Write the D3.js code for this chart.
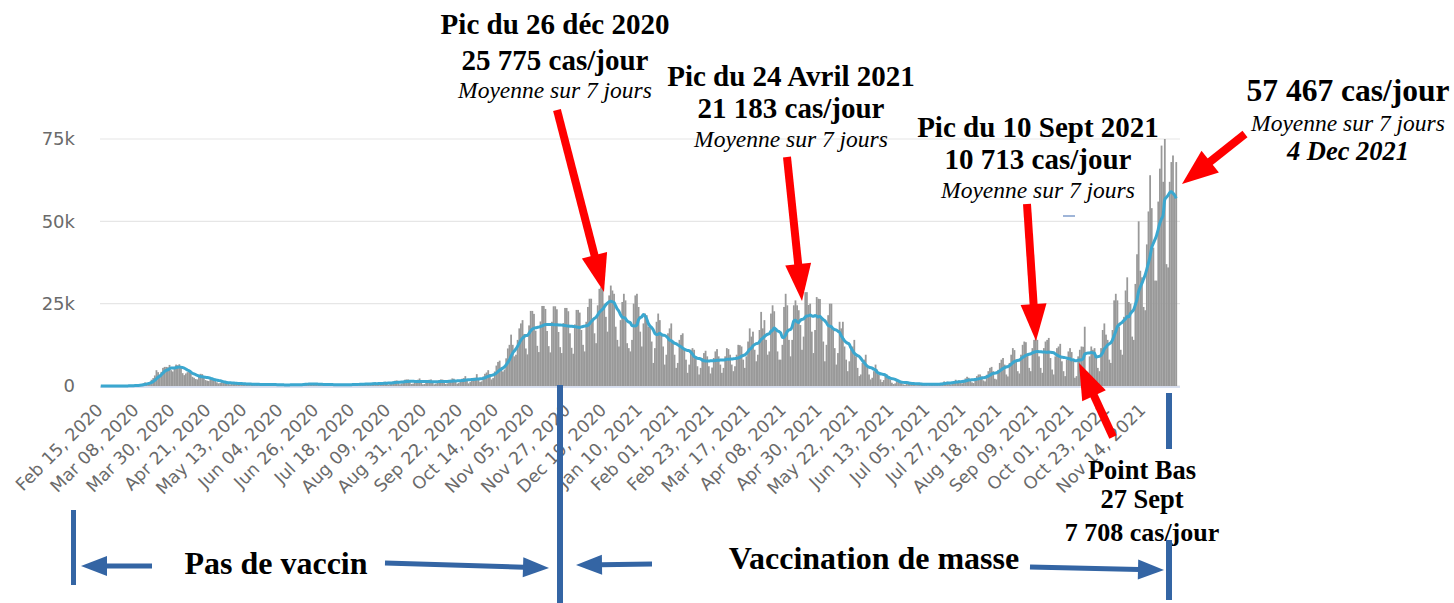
<!DOCTYPE html>
<html>
<head>
<meta charset="utf-8">
<script src="https://cdn.jsdelivr.net/npm/d3@7"></script>
<style>
  body { margin: 0; background: #fff; }
  svg { display: block; }
</style>
</head>
<body>
<svg id="chart" width="1454" height="603"></svg>
<script>
// Daily new cases, in thousands, one row per week (Saturday to Friday), from Feb 15, 2020
const startDate = "2020-02-15";
const dailyCasesK = [
  0,0,0,0,0,0,0,
  0,0,0,0.01,0.02,0.02,0.02,
  0.04,0.03,0.05,0.09,0.12,0.17,0.2,
  0.2,0.15,0.25,0.4,0.6,0.8,1.1,
  0.9,1.0,1.2,1.9,2.4,3.2,4.8,
  4.2,3.0,4.3,5.5,5.8,5.8,5.7,
  6.4,4.8,4.4,5.6,6.5,6.3,6.6,
  5.9,3.9,3.3,3.8,4.2,4.7,4.3,
  2.8,2.5,2.1,2.0,2.9,3.7,3.6,
  2.5,1.8,1.6,1.5,2.1,2.3,2.2,
  1.7,1.1,0.8,0.9,1.2,1.5,1.2,
  0.9,0.6,0.5,0.7,1.0,1.1,0.8,
  0.7,0.5,0.35,0.55,0.7,0.75,0.65,
  0.6,0.4,0.3,0.45,0.6,0.65,0.5,
  0.45,0.35,0.25,0.4,0.55,0.6,0.55,
  0.4,0.3,0.2,0.3,0.4,0.45,0.4,
  0.35,0.25,0.2,0.3,0.45,0.45,0.45,
  0.4,0.3,0.25,0.4,0.55,0.7,0.9,
  0.7,0.5,0.4,0.55,0.65,0.65,0.75,
  0.45,0.3,0.25,0.4,0.55,0.6,0.6,
  0.35,0.25,0.2,0.3,0.4,0.5,0.45,
  0.35,0.25,0.2,0.4,0.5,0.55,0.55,
  0.5,0.3,0.3,0.55,0.7,0.8,0.7,
  0.6,0.35,0.4,0.65,0.95,0.9,1.05,
  0.75,0.3,0.5,0.85,1.05,1.2,1.3,
  0.9,0.4,0.6,1.1,1.4,1.6,1.7,
  1.2,0.5,0.8,1.4,1.9,2.0,2.0,
  1.4,0.6,0.7,1.2,1.7,1.9,2.3,
  1.3,0.5,0.6,1.2,1.6,1.9,2.0,
  1.2,0.5,0.7,1.3,1.8,2.0,1.95,
  1.3,0.6,0.8,1.4,1.9,2.3,2.2,
  1.6,0.7,0.9,1.8,2.2,2.4,3.0,
  2.0,0.8,1.2,2.1,2.5,2.5,3.6,
  2.2,1.2,1.4,2.9,3.7,4.1,4.8,
  3.6,2.0,2.4,4.4,6.2,7.3,7.7,
  5.7,4.4,5.0,8.4,11.4,12.5,15.6,
  12.5,9.0,9.5,14.0,17.5,19.0,20.0,
  15.8,11.4,9.6,18.4,22.8,22.8,21.9,
  16.8,12.2,10.3,19.6,24.3,24.3,23.4,
  16.7,12.1,10.2,19.5,24.2,24.2,23.3,
  16.4,11.8,10.0,19.1,23.7,23.7,22.7,
  16.0,11.6,9.8,18.7,23.1,23.1,22.3,
  17.0,12.5,10.5,19.5,24.0,26.5,26.5,
  20.5,16.0,13.0,24.5,29.5,30.0,29.5,
  25.0,21.0,16.5,27.5,30.5,29.0,28.0,
  18.0,14.0,12.0,20.0,25.5,28.0,26.0,
  13.0,11.5,10.5,14.0,25.0,27.5,28.0,
  24.0,16.5,12.0,19.0,22.0,21.5,18.0,
  18.5,13.5,7.0,11.5,19.5,22.0,20.0,
  16.0,12.0,6.5,9.5,16.0,17.5,19.0,
  13.0,9.5,5.5,7.0,14.0,15.5,16.0,
  11.0,8.0,4.0,6.5,11.0,11.5,11.0,
  9.0,6.0,3.5,5.5,8.5,10.0,10.7,
  9.0,6.0,3.8,5.6,8.5,10.5,11.2,
  9.0,6.5,4.0,5.5,9.0,11.5,11.2,
  9.5,6.5,4.5,6.0,9.5,12.5,12.4,
  12.0,8.0,5.5,9.0,13.5,17.5,15.0,
  16.5,11.0,7.5,9.5,17.0,22.5,17.5,
  20.0,14.0,9.5,10.5,22.0,24.5,22.7,
  17.5,10.5,8.0,8.0,12.5,24.0,28.0,
  24.5,14.0,9.0,14.0,24.5,26.0,24.5,
  23.0,18.5,11.0,15.0,28.5,28.5,24.6,
  25.0,16.5,10.0,17.0,27.0,26.5,26.4,
  21.0,13.5,7.5,12.5,21.5,25.0,25.0,
  17.0,11.5,6.5,10.0,19.5,17.5,19.5,
  12.0,8.0,4.5,7.5,12.0,12.0,14.0,
  9.0,5.5,3.0,3.5,7.0,8.0,9.5,
  5.5,3.5,2.0,2.5,4.5,6.5,5.0,
  3.5,2.0,1.2,1.8,3.2,3.5,3.0,
  2.0,1.0,0.6,0.8,1.5,1.8,1.4,
  1.1,0.5,0.35,0.6,1.0,1.1,0.95,
  0.7,0.35,0.25,0.45,0.75,0.75,0.6,
  0.6,0.3,0.2,0.4,0.65,0.75,0.6,
  0.75,0.4,0.3,0.65,1.0,1.4,1.1,
  1.3,0.6,0.5,1.1,1.5,1.9,1.5,
  1.7,0.9,0.8,1.6,2.3,2.8,2.5,
  2.0,1.1,0.9,2.1,3.0,3.5,3.5,
  2.9,1.7,1.4,3.4,4.5,5.5,5.8,
  4.5,2.2,2.0,4.9,7.0,8.0,8.5,
  6.5,3.5,2.9,7.0,9.5,11.5,10.9,
  8.0,4.5,3.8,9.5,12.5,13.5,13.3,
  9.5,5.5,4.5,11.5,14.0,14.5,14.0,
  9.0,5.5,4.0,11.5,13.5,14.0,14.6,
  8.5,5.0,3.5,9.0,11.5,12.0,12.8,
  7.5,4.5,3.0,8.0,10.5,11.5,10.3,
  8.0,2.5,3.0,9.0,11.0,12.0,11.9,
  18.0,4.5,4.0,9.0,12.0,11.0,11.5,
  9.5,5.5,4.5,11.5,17.0,19.0,15.6,
  14.0,8.0,7.0,17.0,26.0,28.0,26.0,
  18.0,11.0,9.5,21.0,29.0,33.0,25.5,
  25.0,15.0,14.0,31.0,40.0,50.0,35.0,
  33.0,24.0,23.0,43.0,53.0,64.0,54.0,
  42.0,32.0,32.0,56.0,66.0,73.0,62.0,
  75.0,37.0,36.0,62.0,68.0,70.0,58.0,
  68.0
];

const yTicks = [0, 25, 50, 75];
const tickStep = 22;
const tickLabels = [
  "Feb 15, 2020", "Mar 08, 2020", "Mar 30, 2020", "Apr 21, 2020", "May 13, 2020",
  "Jun 04, 2020", "Jun 26, 2020", "Jul 18, 2020", "Aug 09, 2020", "Aug 31, 2020",
  "Sep 22, 2020", "Oct 14, 2020", "Nov 05, 2020", "Nov 27, 2020", "Dec 19, 2020",
  "Jan 10, 2021", "Feb 01, 2021", "Feb 23, 2021", "Mar 17, 2021", "Apr 08, 2021",
  "Apr 30, 2021", "May 22, 2021", "Jun 13, 2021", "Jul 05, 2021", "Jul 27, 2021",
  "Aug 18, 2021", "Sep 09, 2021", "Oct 01, 2021", "Oct 23, 2021", "Nov 14, 2021"
];

const peakNotes = [
  ["Pic du 26 déc 2020", "25 775 cas/jour", "Moyenne sur 7 jours"],
  ["Pic du 24 Avril 2021", "21 183 cas/jour", "Moyenne sur 7 jours"],
  ["Pic du 10 Sept 2021", "10 713 cas/jour", "Moyenne sur 7 jours"]
];
const lastNote = ["57 467 cas/jour", "Moyenne sur 7 jours", "4 Dec 2021"];
const lowNote = ["Point Bas", "27 Sept", "7 708 cas/jour"];
const periodLabels = ["Pas de vaccin", "Vaccination de masse"];

const svg = d3.select("#chart");
const n = dailyCasesK.length;

// 7-day trailing average of the daily values
const avgK = dailyCasesK.map((v, i) => d3.mean(dailyCasesK.slice(Math.max(0, i - 6), i + 1)));

const x = d3.scaleBand()
  .domain(d3.range(n))
  .range([100, 1177])
  .padding(0);

const y = d3.scaleLinear()
  .domain([0, 75])
  .range([386, 139]);

const axisFont = "'DejaVu Sans', Verdana, sans-serif";
const serif = "'Liberation Serif', 'Times New Roman', serif";

// grid lines + y labels
svg.append("g")
  .selectAll("line")
  .data(yTicks)
  .join("line")
  .attr("x1", 100)
  .attr("x2", 1180)
  .attr("y1", d => y(d))
  .attr("y2", d => y(d))
  .attr("stroke", "#e6e6e6")
  .attr("stroke-width", 1.2);

svg.append("g")
  .selectAll("text")
  .data(yTicks)
  .join("text")
  .attr("x", 75)
  .attr("y", d => y(d))
  .attr("dy", "0.36em")
  .attr("text-anchor", "end")
  .attr("font-family", axisFont)
  .attr("font-size", 18)
  .attr("fill", "#6a6a6a")
  .text(d => d === 0 ? "0" : d + "k");

// bars
svg.append("g")
  .selectAll("rect")
  .data(dailyCasesK)
  .join("rect")
  .attr("x", (d, i) => x(i))
  .attr("width", x.bandwidth() + 0.15)
  .attr("y", d => y(d))
  .attr("height", d => y(0) - y(d))
  .attr("fill", "#999999");

// x axis line
svg.append("line")
  .attr("x1", 100).attr("x2", 1180)
  .attr("y1", 387).attr("y2", 387)
  .attr("stroke", "#ccd6eb")
  .attr("stroke-width", 1.5);

// 7-day average
svg.append("path")
  .datum(avgK)
  .attr("fill", "none")
  .attr("stroke", "#3ba7cf")
  .attr("stroke-width", 3)
  .attr("stroke-linejoin", "round")
  .attr("d", d3.line()
    .x((d, i) => x(i) + x.bandwidth() / 2)
    .y(d => y(d))
    .curve(d3.curveMonotoneX));

// rotated date labels
svg.append("g")
  .selectAll("text")
  .data(tickLabels)
  .join("text")
  .attr("transform", (d, i) => `translate(${x(i * tickStep) + 4},${411}) rotate(-45)`)
  .attr("text-anchor", "end")
  .attr("font-family", axisFont)
  .attr("font-size", 17.5)
  .attr("fill", "#6a6a6a")
  .text(d => d);

// arrows
function arrow(x1, y1, x2, y2, color, w, headLen, headW) {
  const a = Math.atan2(y2 - y1, x2 - x1);
  const bx = x2 - headLen * Math.cos(a), by = y2 - headLen * Math.sin(a);
  const px = -Math.sin(a) * headW / 2, py = Math.cos(a) * headW / 2;
  svg.append("line")
    .attr("x1", x1).attr("y1", y1)
    .attr("x2", bx + Math.cos(a)).attr("y2", by + Math.sin(a))
    .attr("stroke", color)
    .attr("stroke-width", w);
  svg.append("path")
    .attr("d", `M${x2},${y2}L${bx + px},${by + py}L${bx - px},${by - py}Z`)
    .attr("fill", color);
}

const red = "#ff0000", blue = "#3465a4";

// text blocks
function block(lines, cx, ys, styles) {
  lines.forEach((t, i) => {
    svg.append("text")
      .attr("x", cx)
      .attr("y", ys[i])
      .attr("text-anchor", "middle")
      .attr("font-family", serif)
      .attr("font-size", styles[i].size)
      .attr("font-weight", styles[i].bold ? "bold" : "normal")
      .attr("font-style", styles[i].italic ? "italic" : "normal")
      .attr("fill", "#000")
      .text(t);
  });
}

const peakStyle = [{size: 29, bold: true}, {size: 29, bold: true}, {size: 23.5, italic: true}];
block(peakNotes[0], 555, [34, 70, 98], peakStyle);
block(peakNotes[1], 791, [86, 118, 147], peakStyle);
block(peakNotes[2], 1038, [137, 169, 198], peakStyle);
block(lastNote, 1348, [101, 131, 160],
  [{size: 31.5, bold: true}, {size: 23.5, italic: true}, {size: 26.5, bold: true, italic: true}]);
block(lowNote, 1142, [479, 508, 541], [{size: 26.5, bold: true}, {size: 26.5, bold: true}, {size: 26, bold: true}]);

arrow(557, 110, 604, 292, red, 8, 38, 26);
arrow(787, 157, 802, 301, red, 8, 37, 26);
arrow(1027, 204, 1036, 341, red, 8, 37, 26);
arrow(1245, 134, 1182, 184, red, 8, 36, 28);
arrow(1113, 437, 1079, 363, red, 8, 36, 26);

// stray mark under the third note
svg.append("line")
  .attr("x1", 1063).attr("x2", 1075)
  .attr("y1", 216).attr("y2", 216)
  .attr("stroke", "#7f9ccb")
  .attr("stroke-width", 1.5);

// period markers
svg.append("rect").attr("x", 71).attr("y", 510).attr("width", 5).attr("height", 75).attr("fill", blue);
svg.append("rect").attr("x", 557).attr("y", 385).attr("width", 6).attr("height", 218).attr("fill", blue);
svg.append("rect").attr("x", 1166).attr("y", 393).attr("width", 6).attr("height", 56).attr("fill", blue);
svg.append("rect").attr("x", 1166).attr("y", 540).attr("width", 6).attr("height", 60).attr("fill", blue);

arrow(152, 566, 81, 566, blue, 5, 26, 20);
arrow(385, 563, 549, 568, blue, 5, 26, 20);
arrow(652, 564, 576, 565, blue, 5, 26, 20);
arrow(1030, 567, 1164, 570, blue, 5, 26, 20);

svg.append("text")
  .attr("x", 276).attr("y", 574)
  .attr("text-anchor", "middle")
  .attr("font-family", serif).attr("font-size", 32).attr("font-weight", "bold")
  .text(periodLabels[0]);
svg.append("text")
  .attr("x", 874).attr("y", 569)
  .attr("text-anchor", "middle")
  .attr("font-family", serif).attr("font-size", 32).attr("font-weight", "bold")
  .text(periodLabels[1]);
</script>
</body>
</html>
